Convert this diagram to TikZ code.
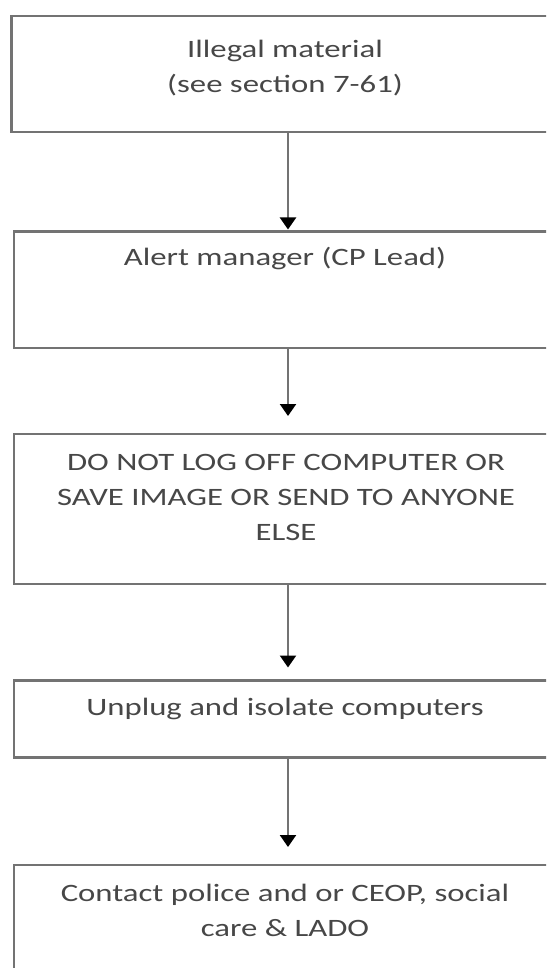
\documentclass[tikz,border=0pt]{standalone}
\usepackage{fontspec}
\setmainfont{Carlito}
\usepackage{graphicx}
\usetikzlibrary{arrows.meta,positioning}
% text of one step, stretched a little sideways
\newcommand{\steplines}[1]{\scalebox{1.31}[1]{\begin{tabular}[t]{@{}c@{}}#1\end{tabular}}}

\begin{document}
\begin{tikzpicture}[x=1pt,y=-1pt,
  stepbox/.style={draw=black!55, line width=2.2pt, anchor=north, outer sep=0pt, inner sep=0pt},
  steptext/.style={anchor=base, inner sep=0pt, text=black!72, font=\fontsize{25}{35}\selectfont},
  flow/.style={draw=black!55, line width=2.2pt, -{Triangle[width=16pt,length=12pt,color=black]}}]
\useasboundingbox (0,0) rectangle (546,968);
\clip (0,0) rectangle (546,968);

% boxes (right sides run off the page)
\node[stepbox, minimum width=553pt, minimum height=116pt] (illegal) at (288,15.7) {};
\node[stepbox, minimum width=548pt, minimum height=116.5pt] (alert) at (288,231.5) {};
\node[stepbox, minimum width=548pt, minimum height=150pt] (nologoff) at (288,434) {};
\node[stepbox, minimum width=548pt, minimum height=77pt] (unplug) at (288,680.5) {};
\node[stepbox, minimum width=548pt, minimum height=140pt] (contact) at (288,865) {};

\node[steptext] (illegaltxt) at (285,58) {\steplines{Illegal material\\(see section 7-61)}};
\node[steptext] (alerttxt) at (285,265) {\steplines{Alert manager (CP Lead)}};
\node[steptext] (nologofftxt) at (286,470) {\steplines{DO NOT LOG OFF COMPUTER OR\\SAVE IMAGE OR SEND TO ANYONE\\ELSE}};
\node[steptext] (unplugtxt) at (285,715) {\steplines{Unplug and isolate computers}};
\node[steptext] (contacttxt) at (285,901) {\steplines{Contact police and or CEOP, social\\care \& LADO}};

% arrows
\draw[flow, shorten >=2pt] (illegal) -- (alert);
\draw[flow, shorten >=18pt] (alert) -- (nologoff);
\draw[flow, shorten >=13pt] (nologoff) -- (unplug);
\draw[flow, shorten >=18pt] (unplug) -- (contact);
\end{tikzpicture}
\end{document}
